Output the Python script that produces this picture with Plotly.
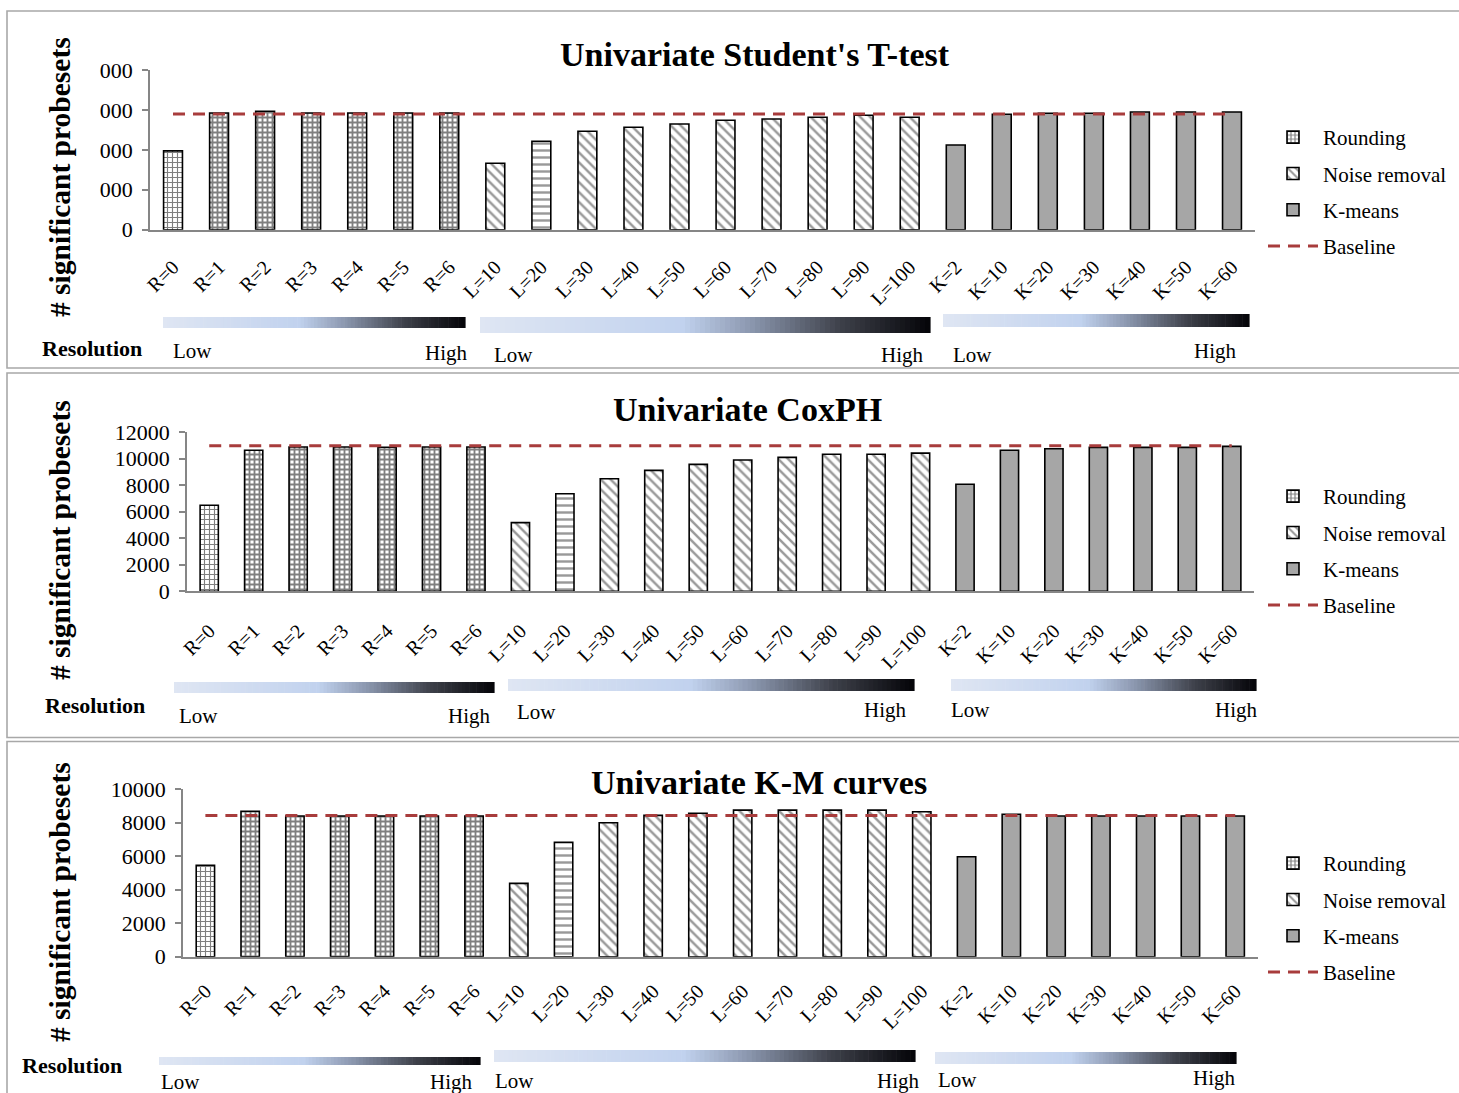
import plotly.graph_objects as go

W, H = 1459, 1093

# ---------------------------------------------------------------- data
rounding_labels = ["R=0", "R=1", "R=2", "R=3", "R=4", "R=5", "R=6"]
noise_labels = ["L=10", "L=20", "L=30", "L=40", "L=50", "L=60", "L=70", "L=80", "L=90", "L=100"]
kmeans_labels = ["K=2", "K=10", "K=20", "K=30", "K=40", "K=50", "K=60"]
categories = rounding_labels + noise_labels + kmeans_labels

# Univariate Student's T-test
ttest_rounding = [7900, 11690, 11860, 11690, 11690, 11690, 11690]
ttest_noise = [6650, 8860, 9860, 10260, 10590, 10960, 11090, 11260, 11460, 11260]
ttest_kmeans = [8490, 11560, 11660, 11660, 11790, 11790, 11790]
ttest_baseline = 11600
ttest_tickvals = [0, 4000, 8000, 12000, 16000]
ttest_ticktext = ["0", "000", "000", "000", "000"]

# Univariate CoxPH
cox_rounding = [6480, 10620, 10870, 10870, 10850, 10870, 10870]
cox_noise = [5170, 7350, 8480, 9110, 9560, 9890, 10090, 10320, 10320, 10410]
cox_kmeans = [8060, 10620, 10740, 10840, 10840, 10840, 10920]
cox_baseline = 10960
cox_tickvals = [0, 2000, 4000, 6000, 8000, 10000, 12000]
cox_ticktext = ["0", "2000", "4000", "6000", "8000", "10000", "12000"]

# Univariate K-M curves
km_rounding = [5450, 8670, 8390, 8390, 8390, 8390, 8390]
km_noise = [4370, 6820, 7990, 8430, 8550, 8740, 8740, 8740, 8740, 8640]
km_kmeans = [5960, 8490, 8390, 8390, 8390, 8390, 8390]
km_baseline = 8420
km_tickvals = [0, 2000, 4000, 6000, 8000, 10000]
km_ticktext = ["0", "2000", "4000", "6000", "8000", "10000"]

series_names = ["Rounding", "Noise removal", "K-means", "Baseline"]
panel_titles = ["Univariate Student's T-test", "Univariate CoxPH", "Univariate K-M curves"]
y_title = "# significant probesets"
resolution_label = "Resolution"
low_label, high_label = "Low", "High"

# ---------------------------------------------------------------- styling
SERIF = "Liberation Serif, Times New Roman, serif"
AXIS_GREY = "#868686"
BASE_RED = "#a83c3c"
KMEANS_GREY = "#a6a6a6"
BAR_WIDTH = 0.41
noise_pattern_shapes = ["\\", "-", "\\", "\\", "\\", "\\", "\\", "\\", "\\", "\\"]
rounding_solidity = [0.4, 0.6, 0.6, 0.6, 0.6, 0.6, 0.6]


def px(x):
    return x / W


def py(y):
    return 1 - y / H


panels = [
    dict(
        rounding=ttest_rounding, noise=ttest_noise, kmeans=ttest_kmeans,
        baseline=ttest_baseline, tickvals=ttest_tickvals, ticktext=ttest_ticktext,
        yrange=[0, 16000], title=panel_titles[0],
        xdom=(150, 1255), ydom=(229.7, 70), title_pos=(755, 54), ytitle_y=177,
        legend_top=117, xlab_standoff=16,
        grads=[(163, 465, 317, 328), (480, 930, 317, 333), (943, 1249, 314, 327)],
        lows=[(192, 351), (513, 355), (972, 355)],
        highs=[(447, 353), (902, 355), (1215, 351)],
        resolution=(92, 348),
        frame=(7, 11, 368),
    ),
    dict(
        rounding=cox_rounding, noise=cox_noise, kmeans=cox_kmeans,
        baseline=cox_baseline, tickvals=cox_tickvals, ticktext=cox_ticktext,
        yrange=[0, 12000], title=panel_titles[1],
        xdom=(187, 1254), ydom=(591.3, 432), title_pos=(747, 410), ytitle_y=540,
        legend_top=476, xlab_standoff=18,
        grads=[(174, 494, 682, 693), (508, 914, 679, 691), (951, 1256, 679, 691)],
        lows=[(198, 716), (536, 712), (970, 710)],
        highs=[(470, 716), (885, 710), (1236, 710)],
        resolution=(95, 705),
        frame=(7, 373, 737.5),
    ),
    dict(
        rounding=km_rounding, noise=km_noise, kmeans=km_kmeans,
        baseline=km_baseline, tickvals=km_tickvals, ticktext=km_ticktext,
        yrange=[0, 10000], title=panel_titles[2],
        xdom=(183, 1257.6), ydom=(956.7, 789), title_pos=(759, 782), ytitle_y=902,
        legend_top=843, xlab_standoff=13,
        grads=[(159, 480, 1057, 1065), (494, 915, 1050, 1062), (935, 1236, 1052, 1064)],
        lows=[(180, 1082), (514, 1081), (957, 1080)],
        highs=[(452, 1082), (898, 1081), (1214, 1078)],
        resolution=(72, 1065),
        frame=(7, 741.5, 1100),
    ),
]

# resolution gradient: pale blue -> light blue -> near black
grad_stops = [
    (0.00, (223, 230, 243)),
    (0.45, (193, 210, 238)),
    (0.60, (140, 152, 176)),
    (0.80, (62, 65, 74)),
    (1.00, (4, 4, 8)),
]


def grad_color(t):
    for (t0, c0), (t1, c1) in zip(grad_stops[:-1], grad_stops[1:]):
        if t <= t1:
            f = (t - t0) / (t1 - t0) if t1 > t0 else 0
            r, g, b = (round(a + (bb - a) * f) for a, bb in zip(c0, c1))
            return f"rgb({r},{g},{b})"
    r, g, b = grad_stops[-1][1]
    return f"rgb({r},{g},{b})"


def gradient_shapes(x0, x1, y0, y1, n=90):
    out = []
    step = (x1 - x0) / n
    for i in range(n):
        out.append(dict(
            type="rect", xref="paper", yref="paper", layer="above",
            x0=px(x0 + i * step), x1=px(x0 + (i + 1) * step + 0.6),
            y0=py(y1), y1=py(y0),
            fillcolor=grad_color((i + 0.5) / n), line=dict(width=0),
        ))
    return out


fig = go.Figure()
shapes, annotations = [], []
layout_axes = {}

for k, p in enumerate(panels):
    idx = "" if k == 0 else str(k + 1)
    xa, ya = "x" + idx, "y" + idx
    leg = "legend" + idx

    fig.add_trace(go.Bar(
        x=rounding_labels, y=p["rounding"], name=series_names[0],
        xaxis=xa, yaxis=ya, legend=leg, legendgroup=f"r{k}", width=BAR_WIDTH,
        marker=dict(
            color="white", line=dict(color="black", width=1.6),
            pattern=dict(shape="+", fgcolor="#000000", bgcolor="white",
                         size=5, solidity=rounding_solidity, fillmode="overlay"),
        ),
    ))
    fig.add_trace(go.Bar(
        x=noise_labels, y=p["noise"], name=series_names[1],
        xaxis=xa, yaxis=ya, legend=leg, legendgroup=f"n{k}", width=BAR_WIDTH,
        marker=dict(
            color="white", line=dict(color="black", width=1.6),
            pattern=dict(shape=noise_pattern_shapes, fgcolor="#333333", bgcolor="white",
                         size=7, solidity=0.35, fillmode="overlay"),
        ),
    ))
    fig.add_trace(go.Bar(
        x=kmeans_labels, y=p["kmeans"], name=series_names[2],
        xaxis=xa, yaxis=ya, legend=leg, legendgroup=f"k{k}", width=BAR_WIDTH,
        marker=dict(color=KMEANS_GREY, line=dict(color="black", width=1.6)),
    ))
    fig.add_trace(go.Scatter(
        x=categories, y=[p["baseline"]] * len(categories), name=series_names[3],
        xaxis=xa, yaxis=ya, legend=leg, legendgroup=f"b{k}", mode="lines",
        line=dict(color=BASE_RED, width=3, dash="12px,8px"),
    ))

    layout_axes["xaxis" + idx] = dict(
        domain=[px(p["xdom"][0]), px(p["xdom"][1])],
        anchor=ya, type="category", categoryorder="array", categoryarray=categories,
        range=[-0.5, len(categories) - 0.5], automargin=False,
        showline=True, linecolor=AXIS_GREY, linewidth=2, ticks="",
        tickangle=-45, ticklabelstandoff=p["xlab_standoff"],
        tickfont=dict(family=SERIF, size=20, color="black"),
        showgrid=False, zeroline=False, fixedrange=True,
    )
    layout_axes["yaxis" + idx] = dict(
        domain=[py(p["ydom"][0]), py(p["ydom"][1])],
        anchor=xa, range=p["yrange"], tickmode="array", automargin=False,
        tickvals=p["tickvals"], ticktext=p["ticktext"],
        showline=True, linecolor=AXIS_GREY, linewidth=1.5,
        ticks="outside", ticklen=6, tickcolor=AXIS_GREY, tickwidth=1.5,
        ticklabelstandoff=5,
        tickfont=dict(family=SERIF, size=22, color="black"),
        showgrid=False, zeroline=False, fixedrange=True,
    )
    layout_axes[leg] = dict(
        x=px(1263), xanchor="left", y=py(p["legend_top"]), yanchor="top",
        font=dict(family=SERIF, size=21, color="black"),
        bgcolor="rgba(0,0,0,0)", tracegroupgap=6, itemwidth=50,
        traceorder="grouped",
    )

    # panel frame (open on the right side)
    fx, fy0, fy1 = p["frame"]
    shapes.append(dict(type="rect", xref="paper", yref="paper",
                       x0=px(fx), x1=px(W + 20), y0=py(fy1), y1=py(fy0),
                       line=dict(color="#a8a8a8", width=1.6), layer="below"))

    for g in p["grads"]:
        shapes.extend(gradient_shapes(*g))

    annotations.append(dict(
        text=f"<b>{p['title']}</b>", x=px(p["title_pos"][0]), y=py(p["title_pos"][1]),
        xref="paper", yref="paper", showarrow=False, xanchor="center", yanchor="middle",
        font=dict(family=SERIF, size=34, color="black"),
    ))
    annotations.append(dict(
        text=f"<b>{y_title}</b>", x=px(60), y=py(p["ytitle_y"]), textangle=-90,
        xref="paper", yref="paper", showarrow=False, xanchor="center", yanchor="middle",
        font=dict(family=SERIF, size=29.5, color="black"),
    ))
    annotations.append(dict(
        text=f"<b>{resolution_label}</b>", x=px(p["resolution"][0]), y=py(p["resolution"][1]),
        xref="paper", yref="paper", showarrow=False, xanchor="center", yanchor="middle",
        font=dict(family=SERIF, size=22, color="black"),
    ))
    for (lx, ly) in p["lows"]:
        annotations.append(dict(
            text=low_label, x=px(lx), y=py(ly), xref="paper", yref="paper",
            showarrow=False, xanchor="center", yanchor="middle",
            font=dict(family=SERIF, size=21, color="black"),
        ))
    for (hx, hy) in p["highs"]:
        annotations.append(dict(
            text=high_label, x=px(hx), y=py(hy), xref="paper", yref="paper",
            showarrow=False, xanchor="center", yanchor="middle",
            font=dict(family=SERIF, size=21, color="black"),
        ))

fig.update_layout(
    width=W, height=H,
    margin=dict(l=0, r=0, t=0, b=0, pad=0, autoexpand=False),
    paper_bgcolor="white", plot_bgcolor="white",
    barmode="overlay",
    showlegend=True,
    shapes=shapes,
    annotations=annotations,
    font=dict(family=SERIF, color="black"),
    **layout_axes,
)

# page without default body margin so the figure fills the window exactly
fig.write_html(
    "out.html",
    config={"displayModeBar": False},
    post_script="document.body.style.margin='0px';document.body.style.overflow='hidden';",
)
